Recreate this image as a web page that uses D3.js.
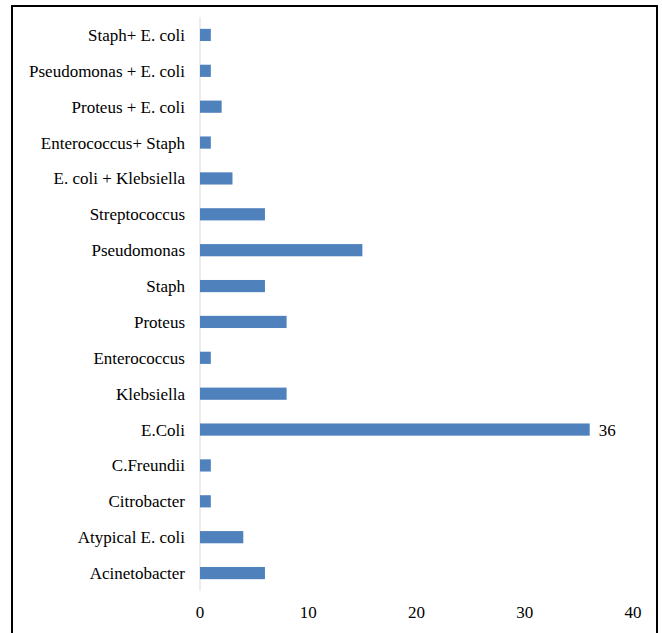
<!DOCTYPE html>
<html>
<head>
<meta charset="utf-8">
<script src="https://cdn.jsdelivr.net/npm/d3@7"></script>
<style>
  html, body { margin: 0; padding: 0; background: #fff; }
  svg { display: block; }
</style>
</head>
<body>
<script>
// Organisms isolated, listed top to bottom
const categories = [
  "Staph+ E. coli",
  "Pseudomonas + E. coli",
  "Proteus + E. coli",
  "Enterococcus+ Staph",
  "E. coli + Klebsiella",
  "Streptococcus",
  "Pseudomonas",
  "Staph",
  "Proteus",
  "Enterococcus",
  "Klebsiella",
  "E.Coli",
  "C.Freundii",
  "Citrobacter",
  "Atypical E. coli",
  "Acinetobacter"
];
const counts = [1, 1, 2, 1, 3, 6, 15, 6, 8, 1, 8, 36, 1, 1, 4, 6];
const xTicks = [0, 10, 20, 30, 40];
const labelled = ["E.Coli"];

const W = 662, H = 633;
const FONT = "'Times New Roman', Times, 'Liberation Serif', 'DejaVu Serif', 'Noto Serif', FreeSerif, serif";
const svg = d3.select("body").append("svg").attr("width", W).attr("height", H)
  .attr("font-family", FONT);

// outer frame
svg.append("rect")
  .attr("x", 12).attr("y", 6)
  .attr("width", 645).attr("height", H + 10)
  .attr("fill", "none").attr("stroke", "#000").attr("stroke-width", 2);

const x = d3.scaleLinear().domain([0, 40]).range([200, 633]);
const y = d3.scaleBand().domain(categories).range([17, 591]).paddingInner(0.66).paddingOuter(0.33);

// category axis line
svg.append("line")
  .attr("x1", x(0)).attr("x2", x(0))
  .attr("y1", 17).attr("y2", 591)
  .attr("stroke", "#d9d9d9").attr("stroke-width", 1);

svg.append("g").selectAll("rect")
  .data(categories)
  .join("rect")
  .attr("x", x(0))
  .attr("y", d => y(d))
  .attr("width", (d, i) => x(counts[i]) - x(0))
  .attr("height", y.bandwidth())
  .attr("fill", "#4f81bd");

// category labels
svg.append("g").selectAll("text")
  .data(categories)
  .join("text")
  .attr("x", 185)
  .attr("y", d => y(d) + y.bandwidth() / 2)
  .attr("dy", "0.35em")
  .attr("text-anchor", "end")
  .attr("font-family", FONT)
  .attr("font-size", 17)
  .text(d => d);

// value labels
svg.append("g").selectAll("text")
  .data(categories.filter(c => labelled.includes(c)))
  .join("text")
  .attr("x", d => x(counts[categories.indexOf(d)]) + 9)
  .attr("y", d => y(d) + y.bandwidth() / 2)
  .attr("dy", "0.35em")
  .attr("font-family", FONT)
  .attr("font-size", 17)
  .text(d => counts[categories.indexOf(d)]);

// value axis labels
svg.append("g").selectAll("text")
  .data(xTicks)
  .join("text")
  .attr("x", d => x(d))
  .attr("y", 612)
  .attr("dy", "0.35em")
  .attr("text-anchor", "middle")
  .attr("font-family", FONT)
  .attr("font-size", 17)
  .text(d => d);
</script>
</body>
</html>
